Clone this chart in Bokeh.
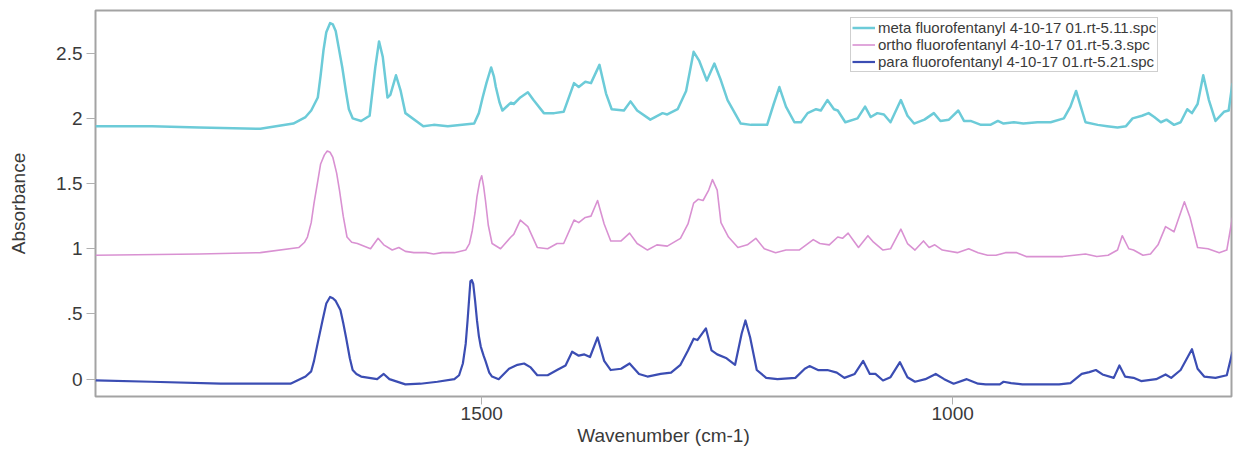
from bokeh.plotting import figure
from bokeh.models import Range1d, FixedTicker, Legend, LegendItem
from bokeh.embed import file_html
from bokeh.resources import INLINE

# ---- data ----
meta_wn = [1910, 1850, 1800, 1735, 1700, 1687, 1681, 1674, 1671, 1668, 1665, 1661, 1658, 1655, 1652,
           1648, 1644, 1641, 1637, 1628, 1619, 1613,
           1609, 1605, 1600, 1597, 1591, 1586, 1581, 1562, 1551, 1536, 1508, 1503, 1499, 1495, 1490,
           1487, 1485, 1481, 1478,
           1469, 1466, 1459, 1451, 1445, 1434, 1423, 1413, 1402, 1397, 1390, 1384, 1375, 1368, 1362,
           1349, 1342, 1335, 1321, 1308, 1303, 1292, 1283, 1275, 1269, 1261, 1253, 1246, 1239, 1225,
           1214, 1197, 1190, 1184, 1177, 1168, 1161, 1154, 1145, 1140, 1133, 1126, 1122, 1114, 1101,
           1093, 1087, 1080, 1073, 1066, 1055, 1048, 1041, 1030, 1020, 1013, 1004, 994, 988, 981,
           970, 960, 952, 946, 935, 925, 910, 896, 882, 875, 869, 864, 859, 846, 836,
           825, 816, 809, 799, 792, 786, 779, 773, 765, 758, 751, 746, 740, 734, 728,
           721, 712, 707, 703]
meta_ab = [1.94, 1.94, 1.93, 1.92, 1.96, 2.01, 2.06, 2.16, 2.33, 2.52, 2.66, 2.73, 2.72, 2.67, 2.55,
           2.39, 2.20, 2.07, 2.00, 1.98, 2.02, 2.39,
           2.59, 2.47, 2.16, 2.18, 2.33, 2.21, 2.04, 1.94, 1.95, 1.94, 1.96, 2.04, 2.16, 2.27, 2.39,
           2.32, 2.24, 2.12, 2.06,
           2.12, 2.11, 2.16, 2.20, 2.14, 2.04, 2.04, 2.05, 2.27, 2.24, 2.28, 2.27, 2.41, 2.19, 2.07,
           2.06, 2.13, 2.06, 1.99, 2.04, 2.03, 2.07, 2.21, 2.51, 2.44, 2.29, 2.42, 2.29, 2.14, 1.96,
           1.95, 1.95, 2.11, 2.24, 2.09, 1.97, 1.97, 2.04, 2.07, 2.06, 2.14, 2.07, 2.06, 1.97, 2.00,
           2.09, 2.01, 2.04, 2.03, 1.97, 2.14, 2.02, 1.96, 1.99, 2.04, 1.98, 1.99, 2.06, 1.98, 1.98,
           1.95, 1.95, 1.98, 1.96, 1.97, 1.96, 1.97, 1.97, 2.00, 2.09, 2.21, 2.09, 1.97, 1.95, 1.94,
           1.93, 1.94, 2.00, 2.02, 2.04, 2.01, 1.97, 1.99, 1.95, 1.97, 2.07, 2.04, 2.11, 2.33, 2.14,
           1.98, 2.05, 2.06, 2.27]

ortho_wn = [1910, 1800, 1735, 1694, 1688, 1685, 1681, 1678, 1674, 1671, 1667, 1664, 1661, 1658, 1654,
            1651, 1647, 1643, 1638, 1632, 1618, 1610, 1604,
            1595, 1588, 1581, 1572, 1559, 1551, 1542, 1529, 1517, 1513, 1510, 1507, 1505, 1502, 1500,
            1498, 1496, 1493, 1489, 1480,
            1469, 1466, 1459, 1451, 1441, 1430, 1420, 1413, 1402, 1397, 1390, 1384, 1377, 1370, 1363,
            1352, 1343, 1335, 1324, 1314, 1303, 1289, 1281, 1275, 1270, 1265, 1259, 1255, 1250, 1246,
            1238, 1228, 1218, 1209, 1200, 1188, 1177, 1163, 1148, 1141, 1131, 1122, 1117, 1111, 1105,
            1100, 1090, 1084, 1074, 1066, 1055, 1048, 1040, 1031, 1025, 1019, 1011, 995, 983, 973,
            963, 954, 944, 932, 922, 902, 883, 859, 847, 835, 825, 820, 813, 808, 798,
            790, 782, 774, 765, 754, 748, 740, 729, 717, 709, 703]
ortho_ab = [0.95, 0.96, 0.97, 1.01, 1.05, 1.09, 1.20, 1.35, 1.52, 1.65, 1.72, 1.75, 1.74, 1.70, 1.58,
            1.45, 1.25, 1.09, 1.05, 1.04, 1.00, 1.08, 1.03,
            0.99, 1.01, 0.98, 0.97, 0.97, 0.96, 0.97, 0.97, 0.99, 1.04, 1.14, 1.28, 1.40, 1.52, 1.56,
            1.48, 1.37, 1.18, 1.04, 1.00,
            1.09, 1.11, 1.22, 1.17, 1.01, 1.00, 1.04, 1.04, 1.22, 1.20, 1.24, 1.25, 1.37, 1.19, 1.06,
            1.06, 1.12, 1.04, 0.99, 1.03, 1.02, 1.08, 1.19, 1.35, 1.38, 1.37, 1.45, 1.53, 1.45, 1.20,
            1.09, 1.01, 1.03, 1.08, 1.00, 0.97, 0.99, 0.99, 1.07, 1.04, 1.03, 1.09, 1.08, 1.12, 1.06,
            1.01, 1.10, 1.05, 0.99, 1.00, 1.15, 1.04, 0.99, 1.06, 1.01, 1.03, 0.99, 0.97, 1.00, 0.97,
            0.95, 0.95, 0.97, 0.97, 0.94, 0.94, 0.94, 0.96, 0.94, 0.95, 0.99, 1.10, 1.00, 0.99, 0.95,
            0.96, 1.03, 1.17, 1.13, 1.36, 1.24, 1.01, 1.00, 0.97, 0.99, 1.24]

para_wn = [1910, 1851, 1777, 1703, 1687, 1681, 1678, 1674, 1669, 1665, 1661, 1658, 1655, 1650, 1647,
           1644, 1640, 1637, 1633, 1628, 1611, 1604,
           1598, 1581, 1565, 1547, 1529, 1524, 1520, 1517, 1515, 1513, 1512, 1510.5, 1509, 1507, 1505,
           1503, 1501, 1498, 1496, 1492, 1489, 1482,
           1471, 1462, 1455, 1448, 1441, 1430, 1420, 1411, 1404, 1397, 1391, 1385, 1377, 1370, 1363,
           1352, 1343, 1333, 1324, 1310, 1299, 1289, 1281, 1275, 1271, 1262, 1256, 1250, 1240, 1231,
           1224, 1220, 1215, 1208, 1198, 1186, 1167, 1157, 1152, 1143, 1133, 1123, 1115, 1104, 1095,
           1088, 1082, 1074, 1066, 1056, 1048, 1040, 1029, 1018, 1009, 999, 985, 973, 965, 950,
           946, 938, 926, 887, 875, 863, 855, 848, 841, 829, 823, 817, 808, 800, 784,
           774, 768, 758, 746, 740, 733, 721, 709, 703]
para_ab = [-0.01, -0.02, -0.035, -0.035, 0.02, 0.06, 0.14, 0.28, 0.45, 0.58, 0.63, 0.62, 0.60, 0.53, 0.43,
           0.32, 0.16, 0.07, 0.04, 0.02, 0.00, 0.04,
           0.00, -0.04, -0.035, -0.02, 0.00, 0.03, 0.12, 0.27, 0.45, 0.65, 0.75, 0.76, 0.73, 0.60, 0.45,
           0.33, 0.25, 0.18, 0.14, 0.05, 0.02, 0.00,
           0.08, 0.11, 0.12, 0.09, 0.03, 0.03, 0.07, 0.105, 0.21, 0.18, 0.19, 0.17, 0.32, 0.14, 0.07,
           0.08, 0.12, 0.04, 0.02, 0.04, 0.05, 0.11, 0.22, 0.31, 0.30, 0.39, 0.22, 0.19, 0.16, 0.11,
           0.35, 0.45, 0.32, 0.07, 0.01, 0.00, 0.01, 0.08, 0.10, 0.07, 0.07, 0.05, 0.01, 0.04, 0.14,
           0.04, 0.04, -0.01, 0.015, 0.13, 0.015, -0.02, 0.00, 0.04, 0.00, -0.035, 0.00, -0.035, -0.04, -0.04,
           -0.02, -0.03, -0.04, -0.04, -0.03, 0.04, 0.054, 0.07, 0.036, 0.01, 0.105, 0.02, 0.01, -0.015, 0.00,
           0.036, 0.01, 0.07, 0.23, 0.08, 0.02, 0.01, 0.03, 0.21]

series_labels = ["meta fluorofentanyl 4-10-17 01.rt-5.11.spc",
                 "ortho fluorofentanyl 4-10-17 01.rt-5.3.spc",
                 "para fluorofentanyl 4-10-17 01.rt-5.21.spc"]
x_ticks = [1500, 1000]
y_ticks = [0, 0.5, 1, 1.5, 2, 2.5]

FONT = "Liberation Sans"
TXT = "#3a3a3a"

p = figure(width=1233, height=452, output_backend="svg", toolbar_location=None,
           x_range=Range1d(1910, 704), y_range=Range1d(-0.133, 2.827),
           min_border_left=95, min_border_right=2, min_border_top=10, min_border_bottom=56,
           background_fill_color="white", border_fill_color="white")
p.grid.visible = False
p.outline_line_color = "#a3a3a3"
p.outline_line_width = 2

r_meta = p.line(meta_wn, meta_ab, line_color="#6ccbd8", line_width=2.5, line_join="round")
r_ortho = p.line(ortho_wn, ortho_ab, line_color="#d991d2", line_width=1.6, line_join="round")
r_para = p.line(para_wn, para_ab, line_color="#3b4db3", line_width=2.2, line_join="round")

for ax in (p.xaxis[0], p.yaxis[0]):
    ax.axis_line_color = None
    ax.minor_tick_line_color = None
    ax.major_tick_in = 0
    ax.major_tick_line_color = "#b0b0b0"
    ax.major_label_text_font = FONT
    ax.major_label_text_font_size = "19px"
    ax.major_label_text_color = TXT
    ax.axis_label_text_font = FONT
    ax.axis_label_text_font_size = "19px"
    ax.axis_label_text_font_style = "normal"
    ax.axis_label_text_color = TXT

p.xaxis.ticker = FixedTicker(ticks=x_ticks)
p.xaxis.major_tick_out = 8
p.xaxis.major_label_standoff = 2
p.xaxis.axis_label = "Wavenumber (cm-1)"
p.xaxis.axis_label_standoff = 2

p.yaxis.ticker = FixedTicker(ticks=y_ticks)
p.yaxis.major_label_overrides = {0.5: ".5"}
p.yaxis.major_tick_out = 9
p.yaxis.major_label_standoff = 4
p.yaxis.axis_label = "Absorbance"
p.yaxis.axis_label_standoff = 24

legend = Legend(items=[LegendItem(label=series_labels[0], renderers=[r_meta]),
                       LegendItem(label=series_labels[1], renderers=[r_ortho]),
                       LegendItem(label=series_labels[2], renderers=[r_para])],
                location=(755, 324))
legend.label_text_font = FONT
legend.label_text_font_size = "15px"
legend.label_text_color = TXT
legend.glyph_width = 23
legend.glyph_height = 15
legend.label_height = 15
legend.label_standoff = 3
legend.padding = 1
legend.spacing = 0
legend.margin = 0
legend.border_line_color = "#a0a0a0"
legend.border_line_width = 1
legend.background_fill_alpha = 1
p.add_layout(legend)

open("out.html", "w").write(file_html(p, INLINE))
